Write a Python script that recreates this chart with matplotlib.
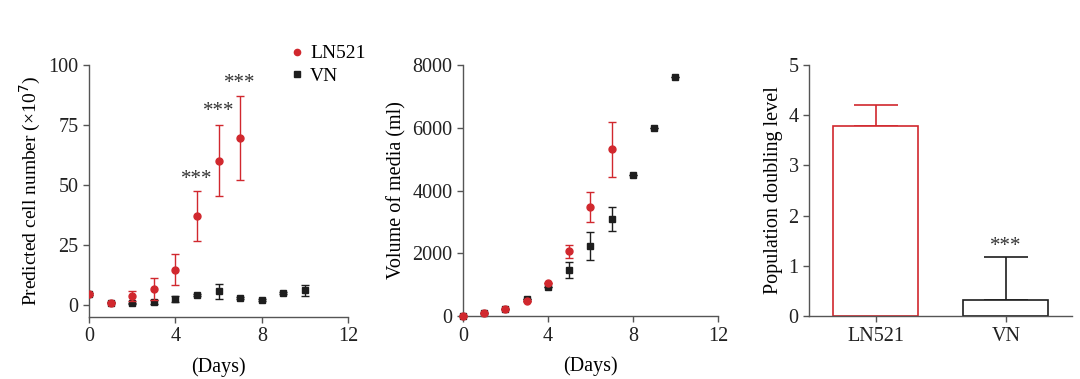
import matplotlib
matplotlib.use("Agg")
import matplotlib.pyplot as plt
from matplotlib.lines import Line2D

plt.rcParams['font.family'] = ['Liberation Serif', 'DejaVu Serif']

RED = '#d1282e'
BLK = '#1e1e1e'
GRAY = '#555555'

# panel 1: predicted cell number (x10^7)
dias_ln = [0, 1, 2, 3, 4, 5, 6, 7]
cel_ln = [4.6, 0.9, 3.8, 6.6, 14.7, 37.0, 60.0, 69.5]
cel_ln_err = [0.5, 0.3, 2.1, 4.7, 6.6, 10.4, 14.8, 17.6]
dias_vn = [0, 1, 2, 3, 4, 5, 6, 7, 8, 9, 10]
cel_vn = [4.4, 0.8, 0.6, 1.2, 2.4, 4.1, 5.6, 2.8, 2.0, 4.9, 6.0]
cel_vn_err = [0.4, 0.2, 0.3, 1.0, 1.4, 0.5, 3.0, 0.3, 0.3, 0.4, 2.4]
estrellas_x = [5, 6, 7]
estrellas_y = [48.5, 76.5, 88.5]

# panel 2: volume of media (ml)
vol_ln = [0, 85, 234, 468, 1064, 2064, 3468, 5319]
vol_ln_err = [0, 0, 0, 0, 0, 205, 480, 880]
vol_vn = [0, 90, 234, 553, 915, 1468, 2234, 3106, 4489, 5979, 7628]
vol_vn_err = [0, 0, 0, 0, 0, 245, 440, 385, 0, 0, 0]

# panel 3: population doubling level
grupos = ['LN521', 'VN']
pdl = [3.78, 0.32]
pdl_err = [0.42, 0.85]

fig = plt.figure(figsize=(10.8, 3.79), dpi=100)

def estilo(ax):
    for s in ['top', 'right']:
        ax.spines[s].set_visible(False)
    for s in ['left', 'bottom']:
        ax.spines[s].set_color(GRAY)
        ax.spines[s].set_linewidth(1.0)
    ax.tick_params(direction='out', length=4, width=1.0, color=GRAY,
                   labelsize=14.5, labelcolor='#222222')

# ---- panel 1
ax1 = fig.add_axes([0.0824, 0.164, 0.240, 0.6645])
ax1.errorbar(dias_ln, cel_ln, yerr=cel_ln_err, fmt='o', color=RED, ms=5,
             capsize=3, elinewidth=1.0, capthick=1.0, zorder=3)
ax1.errorbar(dias_vn, cel_vn, yerr=cel_vn_err, fmt='s', color=BLK, ms=5,
             capsize=3, elinewidth=1.0, capthick=1.0, zorder=2)
for x, y in zip(estrellas_x, estrellas_y):
    ax1.text(x, y, '***', ha='center', va='bottom', fontsize=15, color='#333333')
ax1.set_xlim(0, 12)
ax1.set_ylim(-5, 100)
ax1.set_xticks([0, 4, 8, 12])
ax1.set_yticks([0, 25, 50, 75, 100])
ax1.set_xlabel('(Days)', fontsize=14.5, labelpad=8)
ax1.set_ylabel('Predicted cell number (×10$^7$)', fontsize=14)
estilo(ax1)
marcas = [Line2D([], [], ls='none', marker='o', color=RED, ms=4.5),
          Line2D([], [], ls='none', marker='s', color=BLK, ms=4.5)]
ax1.legend(marcas, grupos, loc='upper right', bbox_to_anchor=(1.135, 1.15), frameon=False,
           fontsize=14, handletextpad=0.2, labelspacing=0.25, handlelength=1.0)

# ---- panel 2
ax2 = fig.add_axes([0.4287, 0.166, 0.236, 0.6625])
ax2.errorbar(dias_vn, vol_vn, yerr=vol_vn_err, fmt='s', color=BLK, ms=5,
             capsize=3, elinewidth=1.0, capthick=1.0, clip_on=False, zorder=2)
ax2.errorbar(dias_ln, vol_ln, yerr=vol_ln_err, fmt='o', color=RED, ms=5,
             capsize=3, elinewidth=1.0, capthick=1.0, clip_on=False, zorder=3)
ax2.set_xlim(0, 12)
ax2.set_ylim(0, 8000)
ax2.set_xticks([0, 4, 8, 12])
ax2.set_yticks([0, 2000, 4000, 6000, 8000])
ax2.set_xlabel('(Days)', fontsize=14.5, labelpad=8)
ax2.set_ylabel('Volume of media (ml)', fontsize=14.5)
estilo(ax2)

# ---- panel 3
ax3 = fig.add_axes([0.749, 0.166, 0.2435, 0.6625])
colores = [RED, BLK]
pos = [0, 1]
ax3.bar(pos, pdl, width=0.654, facecolor='white', edgecolor=colores, linewidth=1.2, zorder=2)
for x, y, e, c in zip(pos, pdl, pdl_err, colores):
    ax3.errorbar([x], [y], yerr=[[0], [e]], fmt='none', ecolor=c, capsize=16,
                 elinewidth=1.2, capthick=1.2, zorder=1)
ax3.text(1, pdl[1] + pdl_err[1] + 0.03, '***', ha='center', va='bottom',
         fontsize=15, color='#333333')
ax3.set_xlim(-0.515, 1.508)
ax3.set_ylim(0, 5)
ax3.set_xticks(pos)
ax3.set_xticklabels(grupos)
ax3.set_yticks([0, 1, 2, 3, 4, 5])
ax3.set_ylabel('Population doubling level', fontsize=14.5)
estilo(ax3)

fig.savefig('out.png', dpi=100)
